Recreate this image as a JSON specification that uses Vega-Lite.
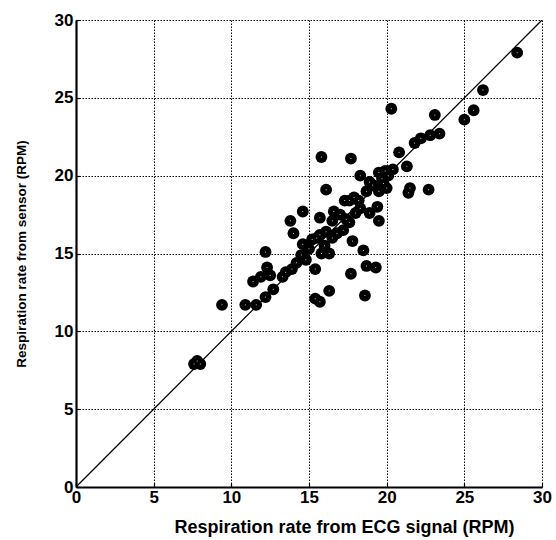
{
  "$schema": "https://vega.github.io/schema/vega-lite/v6.json",
  "width": 466,
  "height": 467,
  "autosize": {"type": "none"},
  "padding": {"left": 76, "top": 20, "right": 14, "bottom": 53},
  "background": "white",
  "config": {
    "view": {"stroke": null},
    "font": "Liberation Sans",
    "axis": {
      "labelFont": "Liberation Sans",
      "labelFontWeight": "bold",
      "labelFontSize": 17,
      "labelColor": "black",
      "titleFont": "Liberation Sans",
      "titleFontWeight": "bold",
      "titleColor": "black",
      "domainColor": "black",
      "domainWidth": 2.2,
      "tickColor": "black",
      "tickWidth": 1.2,
      "tickSize": -4,
      "grid": true,
      "gridColor": "black",
      "gridDash": [1.5, 1.5],
      "gridWidth": 1,
      "gridOpacity": 1
    }
  },
  "datasets": {
    "pts": [
      {"ecg": 28.4, "sensor": 27.9}, {"ecg": 26.2, "sensor": 25.5}, {"ecg": 25.6, "sensor": 24.2},
      {"ecg": 25.0, "sensor": 23.6}, {"ecg": 23.1, "sensor": 23.9}, {"ecg": 23.4, "sensor": 22.7},
      {"ecg": 22.8, "sensor": 22.6}, {"ecg": 22.2, "sensor": 22.4}, {"ecg": 21.8, "sensor": 22.1},
      {"ecg": 20.3, "sensor": 24.3}, {"ecg": 20.8, "sensor": 21.5}, {"ecg": 21.3, "sensor": 20.6},
      {"ecg": 20.4, "sensor": 20.4}, {"ecg": 19.9, "sensor": 20.3}, {"ecg": 19.5, "sensor": 20.2},
      {"ecg": 18.3, "sensor": 20.0}, {"ecg": 17.7, "sensor": 21.1}, {"ecg": 15.8, "sensor": 21.2},
      {"ecg": 18.9, "sensor": 19.6}, {"ecg": 19.8, "sensor": 19.5}, {"ecg": 19.5, "sensor": 19.0},
      {"ecg": 18.7, "sensor": 19.0}, {"ecg": 17.9, "sensor": 18.6}, {"ecg": 21.5, "sensor": 19.2},
      {"ecg": 21.4, "sensor": 18.9}, {"ecg": 22.7, "sensor": 19.1}, {"ecg": 19.4, "sensor": 18.0},
      {"ecg": 16.1, "sensor": 19.1}, {"ecg": 17.3, "sensor": 18.4}, {"ecg": 18.3, "sensor": 17.9},
      {"ecg": 18.9, "sensor": 17.6}, {"ecg": 19.5, "sensor": 17.1}, {"ecg": 14.6, "sensor": 17.7},
      {"ecg": 13.8, "sensor": 17.1}, {"ecg": 14.0, "sensor": 16.3}, {"ecg": 15.7, "sensor": 17.3},
      {"ecg": 16.5, "sensor": 17.1}, {"ecg": 17.4, "sensor": 17.2}, {"ecg": 17.8, "sensor": 15.8},
      {"ecg": 18.5, "sensor": 15.2}, {"ecg": 18.7, "sensor": 14.2}, {"ecg": 19.3, "sensor": 14.1},
      {"ecg": 17.7, "sensor": 13.7}, {"ecg": 15.4, "sensor": 14.0}, {"ecg": 16.3, "sensor": 12.6},
      {"ecg": 15.4, "sensor": 12.1}, {"ecg": 15.7, "sensor": 11.9}, {"ecg": 18.6, "sensor": 12.3},
      {"ecg": 12.2, "sensor": 15.1}, {"ecg": 12.3, "sensor": 14.1}, {"ecg": 11.4, "sensor": 13.2},
      {"ecg": 11.9, "sensor": 13.5}, {"ecg": 12.5, "sensor": 13.6}, {"ecg": 12.7, "sensor": 12.7},
      {"ecg": 13.3, "sensor": 13.5}, {"ecg": 12.2, "sensor": 12.2}, {"ecg": 11.6, "sensor": 11.7},
      {"ecg": 10.9, "sensor": 11.7}, {"ecg": 9.4, "sensor": 11.7}, {"ecg": 7.6, "sensor": 7.9},
      {"ecg": 7.8, "sensor": 8.1}, {"ecg": 8.0, "sensor": 7.9}, {"ecg": 13.9, "sensor": 14.0},
      {"ecg": 14.2, "sensor": 14.4}, {"ecg": 14.5, "sensor": 14.9}, {"ecg": 14.6, "sensor": 15.6},
      {"ecg": 15.0, "sensor": 15.3}, {"ecg": 15.2, "sensor": 15.9}, {"ecg": 15.7, "sensor": 16.2},
      {"ecg": 16.1, "sensor": 16.4}, {"ecg": 16.3, "sensor": 15.0}, {"ecg": 15.8, "sensor": 15.0},
      {"ecg": 16.8, "sensor": 16.3}, {"ecg": 17.2, "sensor": 16.5}, {"ecg": 17.6, "sensor": 17.0},
      {"ecg": 18.0, "sensor": 17.6}, {"ecg": 17.6, "sensor": 18.4}, {"ecg": 15.5, "sensor": 16.0},
      {"ecg": 14.8, "sensor": 14.6}, {"ecg": 16.5, "sensor": 16.0}, {"ecg": 13.5, "sensor": 13.8},
      {"ecg": 16.0, "sensor": 15.5}, {"ecg": 18.2, "sensor": 18.4}, {"ecg": 19.1, "sensor": 19.4},
      {"ecg": 19.7, "sensor": 19.8}, {"ecg": 20.1, "sensor": 20.0}, {"ecg": 20.0, "sensor": 19.2},
      {"ecg": 17.0, "sensor": 17.5}, {"ecg": 16.6, "sensor": 17.7}
    ],
    "diag": [
      {"ecg": 0, "sensor": 0}, {"ecg": 30, "sensor": 30}
    ]
  },
  "layer": [
    {
      "data": {"name": "diag"},
      "mark": {"type": "line", "color": "black", "strokeWidth": 1.3, "clip": true},
      "encoding": {
        "x": {"field": "ecg", "type": "quantitative",
              "scale": {"domain": [0, 30], "nice": false},
              "axis": {"values": [0, 5, 10, 15, 20, 25, 30], "title": "Respiration rate from ECG signal (RPM)",
                       "titleFontSize": 18, "titleX": 268,
                       "labelPadding": 6, "titlePadding": 13, "labelFlush": false}},
        "y": {"field": "sensor", "type": "quantitative",
              "scale": {"domain": [0, 30], "nice": false},
              "axis": {"values": [0, 5, 10, 15, 20, 25, 30], "title": "Respiration rate from sensor (RPM)",
                       "titleFontSize": 13.5,
                       "labelPadding": 7, "titlePadding": 26, "labelFlush": false}}
      }
    },
    {
      "data": {"name": "pts"},
      "mark": {"type": "circle", "color": "black", "opacity": 1, "size": 140},
      "encoding": {
        "x": {"field": "ecg", "type": "quantitative"},
        "y": {"field": "sensor", "type": "quantitative"}
      }
    },
    {
      "data": {"name": "pts"},
      "mark": {"type": "circle", "color": "white", "opacity": 1, "size": 1},
      "encoding": {
        "x": {"field": "ecg", "type": "quantitative"},
        "y": {"field": "sensor", "type": "quantitative"}
      }
    }
  ]
}
